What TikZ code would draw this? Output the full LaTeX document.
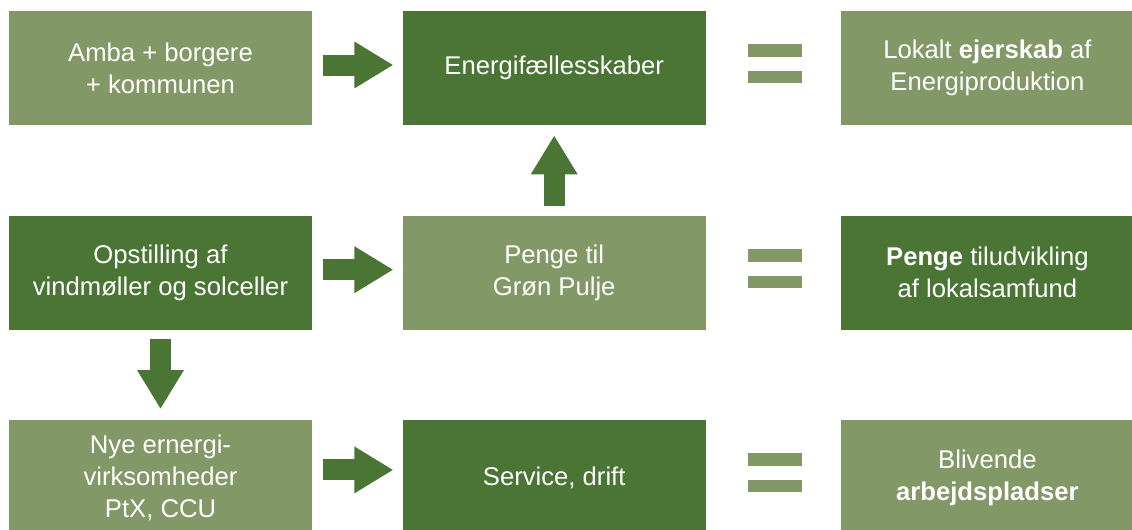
\documentclass[tikz,border=0pt]{standalone}
\usepackage{fontspec}
\setmainfont{Liberation Sans}
\usetikzlibrary{positioning, arrows.meta, calc}

\definecolor{lightgreen}{RGB}{130,152,102}
\definecolor{darkgreen}{RGB}{74,117,52}

\begin{document}
\begin{tikzpicture}[
    box/.style={minimum width=6.06cm, minimum height=2.28cm, inner sep=0pt, text=white, align=center, font=\fontsize{14.6}{18.2}\selectfont},
    lightbox/.style={box, fill=lightgreen},
    darkbox/.style={box, fill=darkgreen},
    bigarrow/.style={draw=darkgreen, line width=0.42cm, -{Triangle[length=0.78cm, width=0.88cm]}},
    bar/.style={fill=lightgreen}
]

    \useasboundingbox (0,0) rectangle (22.64,10.58);

    %Boxes
    \node[lightbox] (a1) at (3.21,9.22) {Amba + borgere\\+ kommunen};
    \node[darkbox, right=1.8cm of a1] (b1) {Energifællesskaber};
    \node[lightbox, right=2.7cm of b1, minimum width=5.84cm] (c1) {Lokalt \textbf{ejerskab} af\\Energiproduktion};

    \node[darkbox, below=1.8cm of a1] (a2) {Opstilling af\\vindmøller og solceller};
    \node[lightbox, right=1.8cm of a2] (b2) {Penge til\\Grøn Pulje};
    \node[darkbox, right=2.7cm of b2, minimum width=5.84cm] (c2) {\textbf{Penge} tiludvikling\\af lokalsamfund};

    \node[lightbox, below=1.8cm of a2] (a3) {Nye ernergi-\\virksomheder\\PtX, CCU};
    \node[darkbox, right=1.8cm of a3] (b3) {Service, drift};
    \node[lightbox, right=2.7cm of b3, minimum width=5.84cm] (c3) {Blivende\\\textbf{arbejdspladser}};

    %Arrows
    \foreach \r/\dy in {1/0.06,2/0.06,3/0.15}
    \draw[bigarrow, shorten <=0.22cm, shorten >=0.18cm] ([yshift=\dy cm]a\r.east) -- ([yshift=\dy cm]b\r.west);

    \draw[bigarrow, shorten <=0.18cm, shorten >=0.2cm] (b2.north) -- (b1.south);
    \draw[bigarrow, shorten <=0.18cm, shorten >=0.22cm] (a2.south) -- (a3.north);

    %Equal signs
    \foreach \r in {1,2,3}{
    \fill[bar] ($(b\r.east)!0.5!(c\r.west)+(-0.51,0.22)$) rectangle +(1.08,0.26);
    \fill[bar] ($(b\r.east)!0.5!(c\r.west)+(-0.51,-0.30)$) rectangle +(1.08,0.24);
    }

\end{tikzpicture}
\end{document}
